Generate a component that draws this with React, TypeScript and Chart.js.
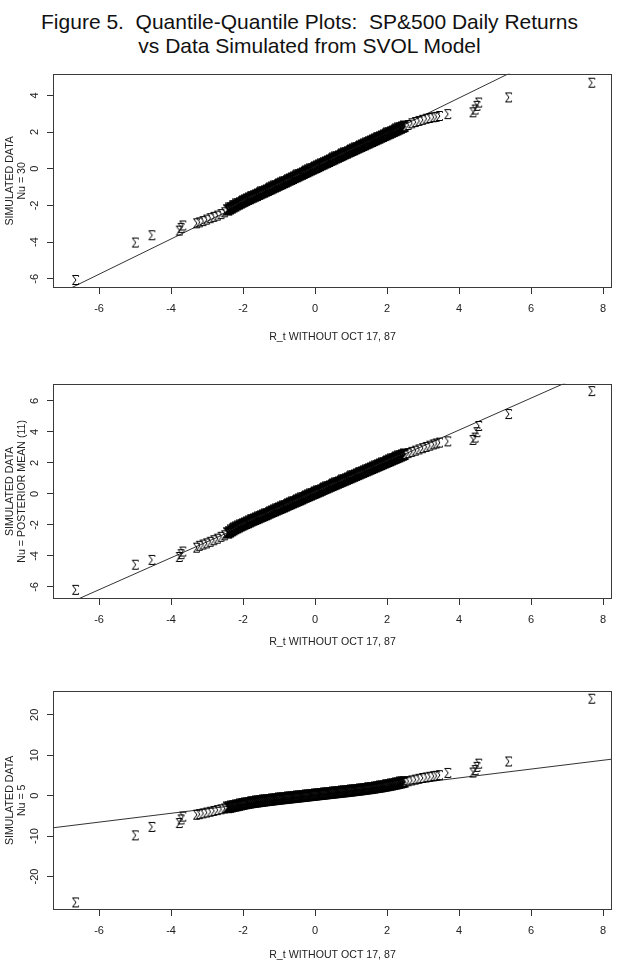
import React, { useEffect, useRef } from "react";
import { Chart, registerables } from "chart.js";

Chart.register(...registerables);

const FONT = '"Liberation Sans", Arial, Helvetica, sans-serif';

const TITLE_LINE_1 = "Figure 5.  Quantile-Quantile Plots:  SP&500 Daily Returns";
const TITLE_LINE_2 = "vs Data Simulated from SVOL Model";
const X_TITLE = "R_t WITHOUT OCT 17, 87";

const X_TICKS = [-6, -4, -2, 0, 2, 4, 6, 8];
const Y_TICKS_1 = [-6, -4, -2, 0, 2, 4];
const Y_TICKS_2 = [-6, -4, -2, 0, 2, 4, 6];
const Y_TICKS_3 = [-20, -10, 0, 10, 20];

const Y_TITLE_1 = ["SIMULATED DATA", "Nu = 30"];
const Y_TITLE_2 = ["SIMULATED DATA", "Nu = POSTERIOR MEAN (11)"];
const Y_TITLE_3 = ["SIMULATED DATA", "Nu = 5"];

// Sorted observed returns (same x quantiles in every panel)
const LEFT_TAIL_X = [-6.64, -4.98, -4.52, -3.76, -3.71, -3.66, -3.28, -3.2, -3.1, -3.0, -2.9, -2.8, -2.7, -2.6, -2.5];
const BAND_X = [
  -2.4, -2.35, -2.3, -2.25, -2.2, -2.15, -2.1, -2.05, -2.0, -1.95, -1.9, -1.85, -1.8, -1.75, -1.7, -1.65, -1.6, -1.55, -1.5, -1.45,
  -1.4, -1.35, -1.3, -1.25, -1.2, -1.15, -1.1, -1.05, -1.0, -0.95, -0.9, -0.85, -0.8, -0.75, -0.7, -0.65, -0.6, -0.55, -0.5, -0.45,
  -0.4, -0.35, -0.3, -0.25, -0.2, -0.15, -0.1, -0.05, 0.0, 0.05, 0.1, 0.15, 0.2, 0.25, 0.3, 0.35, 0.4, 0.45, 0.5, 0.55,
  0.6, 0.65, 0.7, 0.75, 0.8, 0.85, 0.9, 0.95, 1.0, 1.05, 1.1, 1.15, 1.2, 1.25, 1.3, 1.35, 1.4, 1.45, 1.5, 1.55,
  1.6, 1.65, 1.7, 1.75, 1.8, 1.85, 1.9, 1.95, 2.0, 2.05, 2.1, 2.15, 2.2, 2.25, 2.3, 2.35, 2.4, 2.45, 2.5,
];
const RIGHT_TAIL_X = [2.6, 2.7, 2.8, 2.9, 3.0, 3.1, 3.2, 3.3, 3.38, 3.47, 3.7, 4.4, 4.46, 4.51, 4.56, 5.39, 7.7];

// Panel 1: Nu = 30
const P1_LEFT_Y = [-6.09, -4.05, -3.65, -3.4, -3.25, -3.12, -3.0, -2.95, -2.88, -2.8, -2.72, -2.65, -2.58, -2.5, -2.4];
const P1_BAND_Y = [
  -2.28, -2.22, -2.17, -2.11, -2.06, -2.0, -1.95, -1.9, -1.85, -1.8, -1.75, -1.7, -1.66, -1.61, -1.57, -1.52, -1.48, -1.43, -1.39, -1.34,
  -1.3, -1.25, -1.21, -1.16, -1.12, -1.07, -1.02, -0.98, -0.93, -0.88, -0.84, -0.79, -0.75, -0.7, -0.65, -0.61, -0.56, -0.51, -0.47, -0.42,
  -0.37, -0.33, -0.28, -0.23, -0.19, -0.14, -0.09, -0.05, 0.0, 0.04, 0.09, 0.14, 0.19, 0.23, 0.28, 0.32, 0.37, 0.42, 0.46, 0.51,
  0.56, 0.6, 0.65, 0.69, 0.74, 0.79, 0.83, 0.88, 0.92, 0.97, 1.01, 1.06, 1.1, 1.15, 1.19, 1.24, 1.28, 1.33, 1.37, 1.42,
  1.46, 1.51, 1.55, 1.6, 1.64, 1.69, 1.73, 1.78, 1.82, 1.87, 1.91, 1.96, 2.0, 2.05, 2.09, 2.14, 2.18, 2.23, 2.27,
];
const P1_RIGHT_Y = [2.36, 2.45, 2.52, 2.58, 2.64, 2.7, 2.74, 2.78, 2.8, 2.85, 2.95, 3.05, 3.2, 3.4, 3.58, 3.86, 4.66];

// Panel 2: Nu = posterior mean (11)
const P2_LEFT_Y = [-6.22, -4.6, -4.29, -4.1, -3.92, -3.75, -3.5, -3.38, -3.3, -3.22, -3.12, -3.02, -2.92, -2.8, -2.7];
const P2_BAND_Y = [
  -2.56, -2.49, -2.42, -2.35, -2.28, -2.22, -2.16, -2.1, -2.05, -1.99, -1.94, -1.89, -1.84, -1.78, -1.73, -1.68, -1.63, -1.58, -1.53, -1.48,
  -1.43, -1.38, -1.33, -1.27, -1.22, -1.17, -1.12, -1.07, -1.02, -0.97, -0.92, -0.87, -0.82, -0.76, -0.71, -0.66, -0.61, -0.56, -0.51, -0.46,
  -0.41, -0.36, -0.3, -0.25, -0.2, -0.15, -0.1, -0.05, 0.0, 0.05, 0.1, 0.15, 0.2, 0.26, 0.31, 0.36, 0.41, 0.46, 0.51, 0.56,
  0.61, 0.66, 0.71, 0.76, 0.81, 0.86, 0.91, 0.96, 1.01, 1.06, 1.11, 1.16, 1.21, 1.26, 1.31, 1.36, 1.41, 1.46, 1.51, 1.56,
  1.61, 1.66, 1.71, 1.76, 1.81, 1.86, 1.91, 1.96, 2.01, 2.06, 2.11, 2.16, 2.21, 2.26, 2.31, 2.36, 2.41, 2.46, 2.51,
];
const P2_RIGHT_Y = [2.6, 2.68, 2.76, 2.84, 2.92, 3.0, 3.08, 3.16, 3.22, 3.28, 3.36, 3.45, 3.6, 3.95, 4.35, 5.12, 6.6];

// Panel 3: Nu = 5
const P3_LEFT_Y = [-26.55, -9.95, -7.86, -6.9, -6.0, -5.3, -4.85, -4.7, -4.5, -4.3, -4.1, -3.9, -3.7, -3.5, -3.3];
const P3_BAND_Y = [
  -3.1, -3.0, -2.9, -2.8, -2.7, -2.6, -2.5, -2.4, -2.3, -2.2, -2.1, -2.02, -1.95, -1.87, -1.8, -1.74, -1.68, -1.62, -1.56, -1.5,
  -1.44, -1.38, -1.33, -1.27, -1.22, -1.16, -1.11, -1.05, -1.0, -0.95, -0.9, -0.85, -0.8, -0.75, -0.7, -0.65, -0.6, -0.55, -0.5, -0.45,
  -0.4, -0.35, -0.3, -0.25, -0.2, -0.15, -0.1, -0.05, 0.0, 0.05, 0.1, 0.15, 0.2, 0.25, 0.3, 0.35, 0.4, 0.45, 0.5, 0.55,
  0.6, 0.65, 0.7, 0.75, 0.8, 0.85, 0.9, 0.95, 1.0, 1.05, 1.11, 1.16, 1.22, 1.27, 1.33, 1.39, 1.45, 1.51, 1.57, 1.63,
  1.7, 1.76, 1.83, 1.9, 1.97, 2.04, 2.12, 2.2, 2.28, 2.36, 2.45, 2.54, 2.63, 2.72, 2.82, 2.92, 3.02, 3.12, 3.23,
];
const P3_RIGHT_Y = [3.45, 3.65, 3.85, 4.05, 4.25, 4.4, 4.55, 4.7, 4.8, 4.95, 5.5, 5.6, 6.2, 7.0, 7.8, 8.33, 23.86];

// Reference (qqline) endpoints
const LINE_X = [-8, 9];
const P1_LINE_Y = [-7.67, 8.66];
const P2_LINE_Y = [-8.24, 9.27];
const P3_LINE_Y = [-8.74, 9.86];

const X_MIN = -7.28;
const X_MAX = 8.25;

type PanelProps = {
  top: number;
  height: number;
  padTop: number;
  xAxisH: number;
  xTitlePad: number;
  yMin: number;
  yMax: number;
  yTicks: number[];
  yTitle: string[];
  yTickPad: number;
  leftY: number[];
  bandY: number[];
  rightY: number[];
  lineY: number[];
};

function makeSigma(lw: number, w: number, h: number): HTMLCanvasElement {
  const c = document.createElement("canvas");
  c.width = Math.ceil(w + 4);
  c.height = Math.ceil(h + 4);
  const g = c.getContext("2d")!;
  g.strokeStyle = "#000";
  g.lineWidth = lw;
  g.lineJoin = "miter";
  const x0 = 1.5;
  const y0 = 1.5;
  const x1 = x0 + w;
  const y1 = y0 + h;
  g.beginPath();
  g.moveTo(x1, y0 + 1.3);
  g.lineTo(x1, y0);
  g.lineTo(x0, y0);
  g.lineTo(x0 + w * 0.58, (y0 + y1) / 2);
  g.lineTo(x0, y1);
  g.lineTo(x1, y1);
  g.lineTo(x1, y1 - 1.3);
  g.stroke();
  return c;
}

const boxPlugin = {
  id: "rbox",
  afterDraw(chart: any) {
    const { ctx, chartArea } = chart;
    ctx.save();
    ctx.strokeStyle = "#3a3a3a";
    ctx.lineWidth = 1;
    const l = Math.round(chartArea.left) + 0.5;
    const t = Math.round(chartArea.top) + 0.5;
    const r = Math.round(chartArea.right) - 0.5;
    const b = Math.round(chartArea.bottom) - 0.5;
    ctx.strokeRect(l, t, r - l, b - t);
    ctx.restore();
  },
};

function Panel(p: PanelProps) {
  const ref = useRef<HTMLCanvasElement | null>(null);
  useEffect(() => {
    if (!ref.current) return;
    const tailMarker = makeSigma(1, 6, 9);
    const bandMarker = makeSigma(2.2, 6.5, 9.5);
    const tails = [
      ...LEFT_TAIL_X.map((x, i) => ({ x, y: p.leftY[i] })),
      ...RIGHT_TAIL_X.map((x, i) => ({ x, y: p.rightY[i] })),
    ];
    const band = BAND_X.map((x, i) => ({ x, y: p.bandY[i] }));
    const line = LINE_X.map((x, i) => ({ x, y: p.lineY[i] }));
    const tickFont = { family: FONT, size: 11 };
    const chart = new Chart(ref.current, {
      type: "scatter",
      data: {
        datasets: [
          { data: tails, pointStyle: tailMarker as any, pointRadius: 4, showLine: false },
          { data: band, pointStyle: bandMarker as any, pointRadius: 4, showLine: false },
          {
            type: "line" as any,
            data: line,
            borderColor: "#333",
            borderWidth: 1,
            pointRadius: 0,
            fill: false,
            tension: 0,
          },
        ],
      } as any,
      options: {
        animation: false,
        responsive: false,
        maintainAspectRatio: false,
        events: [],
        layout: { padding: { top: p.padTop, right: 7, left: 0, bottom: 0 } },
        plugins: { legend: { display: false }, tooltip: { enabled: false }, title: { display: false } },
        scales: {
          x: {
            type: "linear",
            min: X_MIN,
            max: X_MAX,
            afterBuildTicks: (s: any) => {
              s.ticks = X_TICKS.map((v) => ({ value: v }));
            },
            afterFit: (s: any) => {
              s.height = p.xAxisH;
            },
            grid: { display: true, drawOnChartArea: false, drawTicks: true, tickLength: 6, color: "#333", lineWidth: 1 },
            border: { display: false },
            ticks: {
              font: tickFont,
              color: "#222",
              padding: 8,
              maxRotation: 0,
              minRotation: 0,
              autoSkip: false,
              callback: (v: any) => String(v),
            },
            title: {
              display: true,
              text: X_TITLE,
              color: "#222",
              font: { family: FONT, size: 10.6, lineHeight: 1.2 },
              padding: { top: 0, bottom: p.xTitlePad },
            },
          },
          y: {
            type: "linear",
            min: p.yMin,
            max: p.yMax,
            afterBuildTicks: (s: any) => {
              s.ticks = p.yTicks.map((v) => ({ value: v }));
            },
            afterFit: (s: any) => {
              s.width = 53;
            },
            grid: { display: true, drawOnChartArea: false, drawTicks: true, tickLength: 6, color: "#333", lineWidth: 1 },
            border: { display: false },
            ticks: {
              font: tickFont,
              color: "#222",
              padding: p.yTickPad,
              minRotation: 90,
              maxRotation: 90,
              crossAlign: "center",
              autoSkip: false,
              callback: (v: any) => String(v),
            },
            title: {
              display: true,
              text: p.yTitle,
              color: "#222",
              font: { family: FONT, size: 10.6, lineHeight: 1.05 },
              padding: { top: 4.9, bottom: 0 },
            },
          },
        },
      } as any,
      plugins: [boxPlugin],
    });
    return () => chart.destroy();
  }, []);
  return (
    <canvas
      ref={ref}
      width={619}
      height={p.height}
      style={{ position: "absolute", left: 0, top: p.top, width: 619, height: p.height }}
    />
  );
}

export default function App() {
  return (
    <div
      style={{
        position: "absolute",
        left: 0,
        top: 0,
        width: 619,
        height: 961,
        overflow: "hidden",
        background: "#fff",
        fontFamily: FONT,
      }}
    >
      <div
        style={{
          position: "absolute",
          top: 10,
          left: 0,
          width: 619,
          textAlign: "center",
          fontSize: 21,
          lineHeight: "24px",
          color: "#111",
          whiteSpace: "pre",
        }}
      >
        {TITLE_LINE_1}
        <br />
        {TITLE_LINE_2}
      </div>
      <Panel
        top={60}
        height={290}
        padTop={4}
        xAxisH={62}
        xTitlePad={6.4}
        yMin={-6.5}
        yMax={5.18}
        yTicks={Y_TICKS_1}
        yTitle={Y_TITLE_1}
        yTickPad={7.1}
        leftY={P1_LEFT_Y}
        bandY={P1_BAND_Y}
        rightY={P1_RIGHT_Y}
        lineY={P1_LINE_Y}
      />
      <Panel
        top={370}
        height={291}
        padTop={6}
        xAxisH={62}
        xTitlePad={12.4}
        yMin={-6.78}
        yMax={7.11}
        yTicks={Y_TICKS_2}
        yTitle={Y_TITLE_2}
        yTickPad={7.1}
        leftY={P2_LEFT_Y}
        bandY={P2_BAND_Y}
        rightY={P2_RIGHT_Y}
        lineY={P2_LINE_Y}
      />
      <Panel
        top={680}
        height={281}
        padTop={6}
        xAxisH={51}
        xTitlePad={0}
        yMin={-28.3}
        yMax={26.0}
        yTicks={Y_TICKS_3}
        yTitle={Y_TITLE_3}
        yTickPad={4}
        leftY={P3_LEFT_Y}
        bandY={P3_BAND_Y}
        rightY={P3_RIGHT_Y}
        lineY={P3_LINE_Y}
      />
    </div>
  );
}
